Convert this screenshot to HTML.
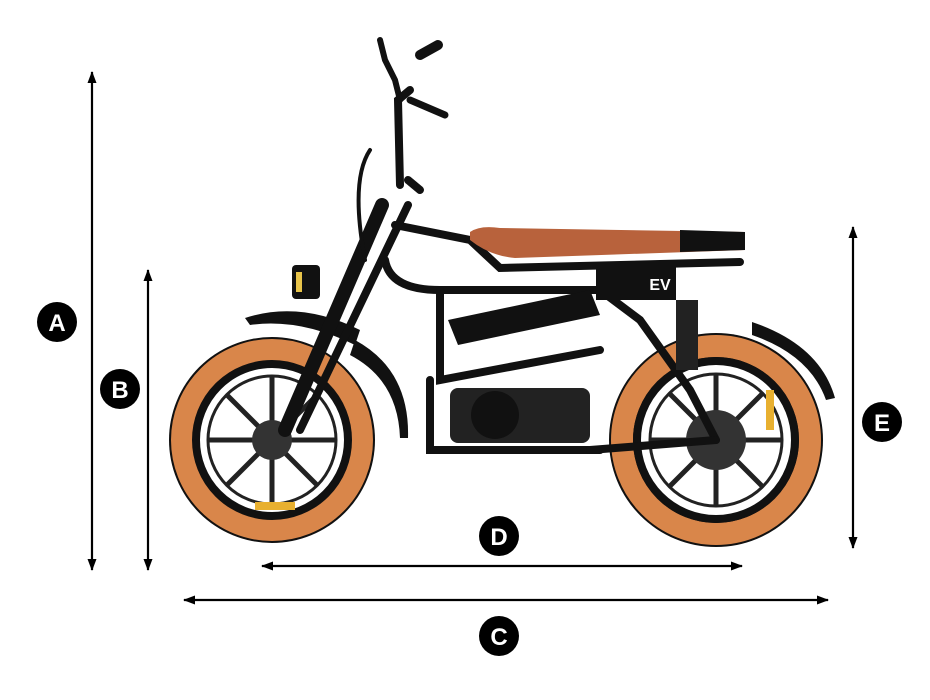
<!DOCTYPE html>
<html><head><meta charset="utf-8"><style>
html,body{margin:0;padding:0;background:#fff;width:930px;height:700px;overflow:hidden}
svg text{font-family:"Liberation Sans",sans-serif;font-weight:bold;fill:#fff;text-anchor:middle}
</style></head><body>
<svg width="930" height="700" viewBox="0 0 930 700" xmlns="http://www.w3.org/2000/svg">
<defs>
<marker id="ar" markerWidth="12" markerHeight="12" refX="11" refY="6" orient="auto-start-reverse" markerUnits="userSpaceOnUse">
<path d="M0,1.5 L12,6 L0,10.5 z" fill="#000"/></marker>
</defs>
<g stroke="#000" stroke-width="2.2" fill="none">
<line x1="92" y1="72" x2="92" y2="570" marker-start="url(#ar)" marker-end="url(#ar)"/>
<line x1="148" y1="270" x2="148" y2="570" marker-start="url(#ar)" marker-end="url(#ar)"/>
<line x1="184" y1="600" x2="828" y2="600" marker-start="url(#ar)" marker-end="url(#ar)"/>
<line x1="262" y1="566" x2="742" y2="566" marker-start="url(#ar)" marker-end="url(#ar)"/>
<line x1="853" y1="227" x2="853" y2="548" marker-start="url(#ar)" marker-end="url(#ar)"/>
</g>
<g>
<circle cx="57" cy="322" r="20" fill="#000"/><text x="57" y="331" font-size="24">A</text>
<circle cx="120" cy="389" r="20" fill="#000"/><text x="120" y="398" font-size="24">B</text>
<circle cx="499" cy="636" r="20" fill="#000"/><text x="499" y="645" font-size="24">C</text>
<circle cx="499" cy="536" r="20" fill="#000"/><text x="499" y="545" font-size="24">D</text>
<circle cx="882" cy="422" r="20" fill="#000"/><text x="882" y="431" font-size="24">E</text>
</g>
<g>
<circle cx="272" cy="440" r="103" fill="#111"/>
<circle cx="272" cy="440" r="90" fill="none" stroke="#d9864a" stroke-width="22"/>
<circle cx="272" cy="440" r="76" fill="#fff" stroke="#111" stroke-width="8"/>
<circle cx="272" cy="440" r="64" fill="none" stroke="#222" stroke-width="3"/>
<g stroke="#222" stroke-width="5">
<line x1="272" y1="376" x2="272" y2="504"/><line x1="208" y1="440" x2="336" y2="440"/>
<line x1="227" y1="395" x2="317" y2="485"/><line x1="317" y1="395" x2="227" y2="485"/>
</g>
<circle cx="272" cy="440" r="20" fill="#333"/>
<circle cx="716" cy="440" r="107" fill="#111"/>
<circle cx="716" cy="440" r="94" fill="none" stroke="#d9864a" stroke-width="22"/>
<circle cx="716" cy="440" r="79" fill="#fff" stroke="#111" stroke-width="8"/>
<circle cx="716" cy="440" r="66" fill="none" stroke="#222" stroke-width="3"/>
<g stroke="#222" stroke-width="5">
<line x1="716" y1="374" x2="716" y2="506"/><line x1="650" y1="440" x2="782" y2="440"/>
<line x1="669" y1="393" x2="763" y2="487"/><line x1="763" y1="393" x2="669" y2="487"/>
</g>
<circle cx="716" cy="440" r="30" fill="#333"/>
</g>
<path d="M245,318 Q300,300 360,330 L355,345 Q300,318 250,325 z" fill="#111"/>
<path d="M355,340 Q410,370 408,438 L400,438 Q398,380 350,355 z" fill="#111"/>
<path d="M752,322 Q820,345 835,398 L826,400 Q810,355 752,335 z" fill="#111"/>
<g stroke="#111" stroke-width="8" fill="none" stroke-linecap="round">
<path d="M395,225 L470,240 L500,268 L740,262"/>
<path d="M385,260 Q390,290 440,290 L600,290 L660,290"/>
<path d="M440,290 L440,380 L600,350"/>
<path d="M430,380 L430,450 L600,450"/>
<path d="M600,290 L640,320 L690,390 L716,440"/>
<path d="M590,450 L716,440"/>
<path d="M382,205 L285,430" stroke-width="14"/>
<path d="M408,205 L300,430" stroke-width="8"/>
<path d="M400,185 L398,100 L410,90"/>
<path d="M408,180 L420,190"/>
<path d="M370,150 Q350,180 365,260" stroke-width="4"/>
<path d="M380,40 L385,60 L395,80 L400,100" stroke-width="6"/>
<path d="M410,100 L445,115" stroke-width="7"/>
</g>
<path d="M420,55 L438,45" stroke="#111" stroke-width="10" stroke-linecap="round"/>
<path d="M470,232 Q480,225 500,228 L745,232 L745,250 L515,258 Q490,256 470,240 z" fill="#b8623c"/>
<path d="M680,230 L745,232 L745,250 L680,252 z" fill="#111"/>
<path d="M448,320 L590,290 L600,315 L458,345 z" fill="#111"/>
<rect x="596" y="266" width="80" height="34" fill="#111"/>
<text x="660" y="290" font-size="16">EV</text>
<rect x="676" y="300" width="22" height="70" fill="#222"/>
<rect x="450" y="388" width="140" height="55" rx="8" fill="#222"/>
<circle cx="495" cy="415" r="24" fill="#111"/>
<rect x="292" y="265" width="28" height="34" rx="4" fill="#111"/>
<rect x="296" y="272" width="6" height="20" fill="#e8c44a"/>
<rect x="255" y="502" width="40" height="8" fill="#e8b030"/>
<rect x="766" y="390" width="8" height="40" fill="#e8b030"/>
</svg>
</body></html>
